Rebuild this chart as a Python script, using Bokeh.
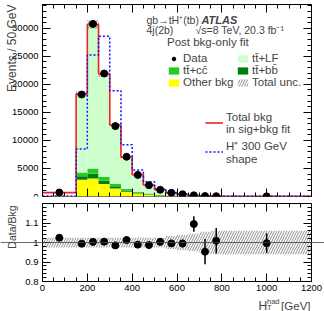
import math
from bokeh.plotting import figure
from bokeh.models import (ColumnDataSource, Label, Legend, LegendItem, LinearAxis,
                          SingleIntervalTicker, Span, CustomJSTickFormatter, Range1d)
from bokeh.layouts import column
from bokeh.embed import file_html
from bokeh.resources import INLINE

# ---------------- data (Events / 50 GeV) ----------------
bin_edges = [0, 150, 200, 250, 300, 350, 400, 450, 500, 550, 600, 650, 700, 750, 800, 1200]
other_bkg = [25, 2980, 3210, 2210, 1430, 840, 540, 300, 190, 110, 65, 33, 16, 9, 4]
tt_bb = [10, 650, 850, 620, 380, 230, 150, 110, 70, 45, 28, 15, 8, 5, 2]
tt_cc = [10, 660, 940, 690, 400, 250, 150, 120, 70, 45, 27, 15, 8, 5, 2]
tt_lf = [0, 14010, 25700, 18330, 10540, 5680, 3060, 1520, 870, 450, 280, 127, 53, 36, 22]
total_bkg_sb = [700, 18300, 30700, 21850, 12750, 7000, 3900, 2050, 1200, 650, 400, 190, 85, 55, 30]
hplus_shape = [100, 8460, 25250, 28570, 18875, 9230, 4710, 2630, 1400, 720, 400, 200, 90, 50, 25]
data = [717, 18190, 30790, 21940, 12560, 7090, 3857, 2023, 1204, 647, 398, 208, 81, 55.5, 29.9]
ratio_err = [0.015, 0.005, 0.004, 0.005, 0.006, 0.008, 0.011, 0.015, 0.02, 0.015, 0.02, 0.04, 0.065, 0.065, 0.05]
total_unc = [0.025, 0.025, 0.025, 0.025, 0.025, 0.025, 0.025, 0.025, 0.025, 0.033, 0.04, 0.045, 0.055, 0.06, 0.06]
x_ticks_major = 200
y_ticks_major = 5000
ratio_ticks_major = 0.1
x_min, x_max = 0, 1200
y_max = 34250
r_min, r_max = 0.8, 1.2

FONT = "Liberation Sans"
PX_PER_GEV = 269 / 1200.0          # plotting area 42..311 px
X_LEFT = -42 / PX_PER_GEV          # frame extended to the window edges for titles/labels
X_RIGHT = x_max + 13 / PX_PER_GEV
R_PX = 78 / (r_max - r_min)        # ratio panel: 78 px for 0.8..1.2

left = bin_edges[:-1]
right = bin_edges[1:]
centers = [(a + b) / 2 for a, b in zip(left, right)]
c1 = other_bkg
c2 = [a + b for a, b in zip(c1, tt_bb)]
c3 = [a + b for a, b in zip(c2, tt_cc)]
c4 = [a + b for a, b in zip(c3, tt_lf)]
ratio = [d / b for d, b in zip(data, total_bkg_sb)]

src = ColumnDataSource(dict(left=left, right=right, z=[0] * len(left), c1=c1, c2=c2, c3=c3, c4=c4,
                            ulo=[t * (1 - u) for t, u in zip(c4, total_unc)],
                            uhi=[t * (1 + u) for t, u in zip(c4, total_unc)],
                            rlo=[1 - u for u in total_unc], rhi=[1 + u for u in total_unc]))
pts = ColumnDataSource(dict(x=centers, y=data, r=ratio,
                            rlo=[r - e for r, e in zip(ratio, ratio_err)],
                            rhi=[r + e for r, e in zip(ratio, ratio_err)]))
step_src = ColumnDataSource(dict(x=bin_edges, bkg=total_bkg_sb + [total_bkg_sb[-1]],
                                 sig=hplus_shape + [hplus_shape[-1]]))


def style_axis(ax, labels=True):
    ax.major_tick_in = 8
    ax.major_tick_out = 0
    ax.minor_tick_in = 4
    ax.minor_tick_out = 0
    ax.axis_line_color = "black"
    ax.major_tick_line_color = "black"
    ax.minor_tick_line_color = "black"
    if labels:
        ax.major_label_text_font = FONT
        ax.major_label_text_font_size = "9.5px"
        ax.major_label_text_color = "black"
        ax.major_label_standoff = 3
    else:
        ax.major_label_text_font_size = "1px"
        ax.major_label_text_color = None
        ax.major_label_standoff = 0


def setup(p, yt, ybounds, xlabels):
    bottom = p.below[0]
    leftax = p.left[0]
    # bottom axis on the lower frame edge, left axis at x = 0
    bottom.ticker = SingleIntervalTicker(interval=x_ticks_major, num_minor_ticks=4)
    bottom.bounds = (x_min, x_max)
    bottom.fixed_location = ybounds[0]
    style_axis(bottom, xlabels)
    leftax.ticker = SingleIntervalTicker(interval=yt[0], num_minor_ticks=yt[1])
    leftax.bounds = ybounds
    leftax.fixed_location = x_min
    style_axis(leftax, True)
    leftax.major_label_standoff = 4
    top = LinearAxis(ticker=SingleIntervalTicker(interval=x_ticks_major, num_minor_ticks=4),
                     bounds=(x_min, x_max))
    style_axis(top, False)
    p.add_layout(top, "above")
    rt = LinearAxis(ticker=SingleIntervalTicker(interval=yt[0], num_minor_ticks=yt[1]),
                    bounds=ybounds, fixed_location=x_max)
    style_axis(rt, False)
    p.add_layout(rt, "right")
    p.grid.visible = False
    p.outline_line_color = None
    return bottom, leftax


# ---------------- main panel ----------------
p1 = figure(width=324, height=200, x_range=Range1d(X_LEFT, X_RIGHT), y_range=Range1d(0, y_max),
            output_backend="svg", toolbar_location=None,
            min_border_left=0, min_border_right=0, min_border_top=4, min_border_bottom=4)
setup(p1, (y_ticks_major, 5), (0, y_max), False)

r_other = p1.quad(left="left", right="right", bottom="z", top="c1", source=src,
                  fill_color="#ffff00", line_color=None)
r_bb = p1.quad(left="left", right="right", bottom="c1", top="c2", source=src,
               fill_color="#00800a", line_color=None)
r_cc = p1.quad(left="left", right="right", bottom="c2", top="c3", source=src,
               fill_color="#22cc22", line_color=None)
r_lf = p1.quad(left="left", right="right", bottom="c3", top="c4", source=src,
               fill_color="#ccffcc", line_color=None)
r_unc = p1.quad(left="left", right="right", bottom="ulo", top="uhi", source=src,
                fill_alpha=0, line_color=None, hatch_pattern="/", hatch_color="#333333",
                hatch_alpha=0.8, hatch_scale=5, hatch_weight=0.7)
r_red = p1.step(x="x", y="bkg", source=step_src, mode="after", line_color="#ee2222", line_width=1.6)
r_blue = p1.step(x="x", y="sig", source=step_src, mode="after", line_color="#1010ff",
                 line_width=1.5, line_dash="2 2")
r_data = p1.scatter(x="x", y="y", source=pts, size=7, color="black")

leg1 = Legend(items=[LegendItem(label="Data", renderers=[r_data]),
                     LegendItem(label="tt̄+LF", renderers=[r_lf]),
                     LegendItem(label="tt̄+cc̄", renderers=[r_cc]),
                     LegendItem(label="tt̄+bb̄", renderers=[r_bb]),
                     LegendItem(label="Other bkg", renderers=[r_other]),
                     LegendItem(label="Total unc.", renderers=[r_unc])],
              location=(167, 108), orientation="horizontal", ncols=2,
              title="Post bkg-only fit", title_text_font=FONT, title_text_font_size="11.5px",
              title_text_font_style="normal", title_standoff=4,
              label_text_font=FONT, label_text_font_size="11.5px",
              glyph_width=13, glyph_height=9, label_height=9, label_width=53, label_standoff=3,
              spacing=0, padding=0, margin=0, background_fill_alpha=0, border_line_alpha=0)
p1.add_layout(leg1)
leg2 = Legend(items=[LegendItem(label="Total bkg\nin sig+bkg fit", renderers=[r_red]),
                     LegendItem(label="H⁺ 300 GeV\nshape", renderers=[r_blue])],
              location=(205, 30), orientation="vertical",
              label_text_font=FONT, label_text_font_size="11.5px",
              glyph_width=18, glyph_height=29, label_height=29, label_standoff=3,
              spacing=0, padding=0, margin=0, background_fill_alpha=0, border_line_alpha=0)
p1.add_layout(leg2)

p1.add_layout(Label(x=464, y=31490, text="gb→tH⁺(tb)", text_font=FONT, text_font_size="10.5px",
                    text_baseline="alphabetic"))
p1.add_layout(Label(x=709, y=31490, text="ATLAS", text_font=FONT, text_font_size="11px",
                    text_font_style="bold italic", text_baseline="alphabetic"))
p1.add_layout(Label(x=464, y=29615, text="4j(2b)", text_font=FONT, text_font_size="10.5px",
                    text_baseline="alphabetic"))
p1.add_layout(Label(x=683, y=29615, text="√s=8 TeV, 20.3 fb⁻¹", text_font=FONT,
                    text_font_size="10.5px", text_baseline="alphabetic"))
p1.add_layout(Label(x=X_LEFT + 11 / PX_PER_GEV, y=y_max, text="Events / 50 GeV", angle=math.pi / 2,
                    text_font=FONT, text_font_size="12px", text_align="right",
                    text_baseline="alphabetic"))

# ---------------- ratio panel (frame extended down to hold the x title) ----------------
r_bottom = r_min - 30 / R_PX
p2 = figure(width=324, height=111, x_range=p1.x_range, y_range=Range1d(r_bottom, r_max),
            output_backend="svg", toolbar_location=None,
            min_border_left=0, min_border_right=0, min_border_top=3, min_border_bottom=0)
bx2, ly2 = setup(p2, (ratio_ticks_major, 5), (r_min, r_max), True)
ly2.formatter = CustomJSTickFormatter(code="return (Math.round(tick*10)/10).toString();")

p2.quad(left="left", right="right", bottom="rlo", top="rhi", source=src,
        fill_alpha=0, line_color=None, hatch_pattern="/", hatch_color="#333333",
        hatch_alpha=0.8, hatch_scale=5, hatch_weight=0.7)
p2.add_layout(Span(location=1, dimension="width", line_color="#444444", line_width=0.8))
p2.segment(x0="x", x1="x", y0="rlo", y1="rhi", source=pts, line_color="black", line_width=1.5)
p2.scatter(x="x", y="r", source=pts, size=7, color="black")

p2.add_layout(Label(x=X_LEFT + 11 / PX_PER_GEV, y=r_max - 2 / R_PX, text="Data/Bkg",
                    angle=math.pi / 2, text_font=FONT, text_font_size="10.5px",
                    text_align="right", text_baseline="alphabetic"))
# x title: H_T^had [GeV]
p2.add_layout(Label(x=(258 - 42) / PX_PER_GEV, y=r_max - 102 / R_PX, text="H", text_font=FONT,
                    text_font_size="12px", text_baseline="alphabetic"))
p2.add_layout(Label(x=(266.5 - 42) / PX_PER_GEV, y=r_max - 97.5 / R_PX, text="had", text_font=FONT,
                    text_font_size="7.5px", text_baseline="alphabetic"))
p2.add_layout(Label(x=(266.5 - 42) / PX_PER_GEV, y=r_max - 104 / R_PX, text="T", text_font=FONT,
                    text_font_size="7.5px", text_baseline="alphabetic"))
p2.add_layout(Label(x=(310 - 42) / PX_PER_GEV, y=r_max - 102 / R_PX, text="[GeV]", text_font=FONT,
                    text_font_size="11.5px", text_align="right", text_baseline="alphabetic"))

layout = column(p1, p2)
open("out.html", "w").write(file_html(layout, INLINE))
